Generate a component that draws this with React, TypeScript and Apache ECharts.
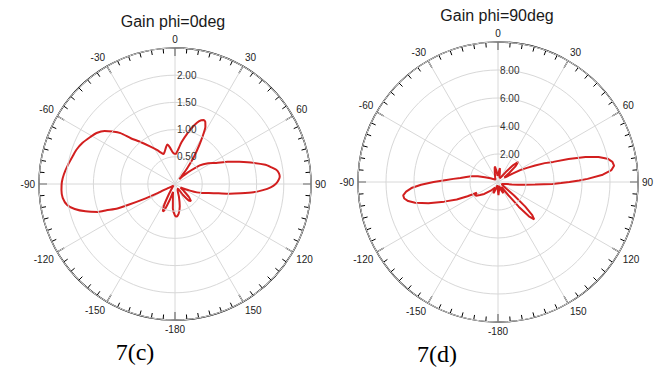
import React, { useEffect, useRef } from 'react';
import * as echarts from 'echarts';

const TITLES = ['Gain phi=0deg', 'Gain phi=90deg'];
const CAPTIONS = ['7(c)', '7(d)'];

// Gain phi=0deg : angle (deg) / gain
const PHI0_ANGLES = [
  -180, -175, -170, -166, -162, -158, -156, -153, -149, -143, -135, -125, -120, -118, -116, -114, -113, -111, -110,
  -107, -104, -101, -97, -93, -89, -85, -80, -75, -71, -66, -61, -57, -53, -50, -47, -44, -40, -34, -28, -24, -21,
  -18, -14, -11, -8, -5, -2, 0, 2, 5, 9, 14, 18, 21, 24, 26, 28, 30, 32, 35, 38, 40, 42, 45, 48, 53, 58, 63, 67, 71,
  75, 78, 80, 82, 84, 86, 88, 90, 92, 94, 96, 98, 100, 102, 105, 108, 111, 114, 117, 122, 128, 133, 137, 140, 144,
  150, 157, 163, 168, 173, 177,
];
const PHI0_GAIN = [
  0.58, 0.45, 0.22, 0.15, 0.3, 0.52, 0.55, 0.45, 0.22, 0.08, 0.04, 0.05, 0.15, 0.35, 0.6, 0.95, 1.15, 1.35, 1.5,
  1.72, 1.9, 2.02, 2.08, 2.09, 2.08, 2.05, 2.0, 1.95, 1.92, 1.86, 1.78, 1.72, 1.62, 1.5, 1.37, 1.17, 1.02, 0.84, 0.71,
  0.63, 0.59, 0.62, 0.69, 0.74, 0.68, 0.6, 0.56, 0.55, 0.56, 0.63, 0.78, 0.97, 1.13, 1.24, 1.29, 1.27, 1.19, 1.02,
  0.84, 0.6, 0.35, 0.18, 0.12, 0.2, 0.32, 0.57, 0.72, 0.85, 1.05, 1.25, 1.5, 1.7, 1.79, 1.88, 1.92, 1.93, 1.9, 1.85,
  1.76, 1.62, 1.45, 1.22, 1.02, 0.82, 0.64, 0.53, 0.43, 0.3, 0.2, 0.12, 0.2, 0.35, 0.43, 0.4, 0.25, 0.1, 0.12, 0.25,
  0.42, 0.55, 0.6,
];

// Gain phi=90deg : angle (deg) / gain
const PHI90_ANGLES = [
  -180, -178, -176, -170, -164, -159, -156, -152, -147, -142, -136, -131, -126, -122, -119, -117, -115, -113, -110,
  -107, -104, -102, -100, -98, -96, -94, -92, -90, -88, -86, -84, -81, -78, -74, -70, -64, -55, -45, -35, -25, -18,
  -13, -11, -8, -4, 0, 4, 8, 11, 16, 25, 33, 38, 42, 45, 48, 51, 55, 58, 60, 62, 64, 66, 68, 70, 72, 74, 76, 78, 80,
  82, 84, 86, 88, 89, 90, 91, 92, 94, 96, 98, 100, 103, 110, 120, 127, 130, 132, 134, 136, 138, 140, 142, 145, 150,
  155, 159, 165, 172, 175, 178,
];
const PHI90_GAIN = [
  0.7, 0.5, 0.3, 0.25, 0.45, 0.85, 0.8, 0.45, 0.55, 0.73, 0.95, 1.3, 1.59, 1.85, 1.89, 1.7, 2.4, 3.2, 4.1, 5.2, 6.1,
  6.56, 6.8, 6.84, 6.6, 6.2, 5.5, 4.6, 3.8, 3.2, 2.7, 2.3, 1.95, 1.5, 1.0, 0.6, 0.35, 0.25, 0.35, 0.5, 0.75, 1.05,
  1.12, 0.8, 0.45, 0.5, 0.7, 1.0, 0.7, 0.4, 0.3, 0.45, 0.9, 1.6, 2.05, 1.7, 1.0, 0.55, 0.7, 1.2, 1.8, 2.3, 2.9, 3.6,
  4.2, 5.3, 6.5, 7.4, 8.0, 8.3, 8.37, 8.15, 7.5, 6.4, 5.8, 5.1, 4.5, 3.9, 2.65, 1.9, 1.45, 1.0, 0.65, 0.4, 0.3, 0.5,
  1.5, 2.6, 3.4, 3.72, 3.3, 2.3, 1.2, 0.5, 0.45, 0.89, 0.6, 0.3, 0.55, 0.7, 0.93,
];

const RADIUS_MAX = [2.5, 10];
const RADIUS_STEP = [0.5, 2];

function toPolarData(angles: number[], gains: number[]) {
  const pts = angles.map((a, i) => [gains[i], a < 0 ? a + 360 : a]);
  pts.sort((p, q) => p[1] - q[1]);
  const start = pts.find((p) => p[1] === 0);
  if (start) pts.push([start[0], 360]);
  return pts;
}

const angleLabel = (v: number) => {
  if (v === 360) return '';
  if (v === 180) return '-180';
  return String(v > 180 ? v - 360 : v);
};

export default function App() {
  const ref = useRef<HTMLDivElement>(null);
  useEffect(() => {
    if (!ref.current) return;
    const chart = echarts.init(ref.current, null, { renderer: 'svg' });
    const centers = [
      [175, 184],
      [498, 182],
    ];
    const radii = [136, 140];
    const angleAxis = [0, 1].map((i) => ({
      polarIndex: i,
      type: 'value',
      min: 0,
      max: 360,
      interval: 30,
      startAngle: 90,
      clockwise: true,
      axisLine: { lineStyle: { color: '#000', width: 1.4 } },
      axisTick: { show: true, inside: true, length: 8, lineStyle: { color: '#000', width: 1.2 } },
      minorTick: { show: true, splitNumber: 6, length: 5, lineStyle: { color: '#000', width: 1 } },
      axisLabel: { formatter: angleLabel, fontSize: 10, color: '#222', margin: 4, fontFamily: 'Liberation Sans' },
      splitLine: { show: true, lineStyle: { color: '#d8d8d8', width: 1 } },
    }));
    const radiusAxis = [0, 1].map((i) => ({
      polarIndex: i,
      type: 'value',
      min: 0,
      max: RADIUS_MAX[i],
      interval: RADIUS_STEP[i],
      axisLine: { show: false },
      axisTick: { show: false },
      axisLabel: {
        formatter: (v: number) => (v === 0 || v >= RADIUS_MAX[i] ? '' : v.toFixed(2)),
        fontSize: 10,
        color: '#333',
        fontFamily: 'Liberation Sans',
        margin: -2,
        align: 'left',
        verticalAlign: 'middle',
      },
      splitLine: { show: true, lineStyle: { color: '#d8d8d8', width: 1 } },
      z: 5,
    }));
    const titleStyle = { fontSize: 16, fontWeight: 'normal', color: '#1a1a1a', fontFamily: 'Liberation Sans' };
    const captionStyle = { fontSize: 24, fontWeight: 'normal', color: '#000', fontFamily: 'Liberation Serif' };
    chart.setOption({
      animation: false,
      backgroundColor: '#fff',
      title: [
        { text: TITLES[0], left: 173, top: 13, textAlign: 'center', padding: 0, textStyle: titleStyle },
        { text: TITLES[1], left: 497, top: 7, textAlign: 'center', padding: 0, textStyle: titleStyle },
        { text: CAPTIONS[0], left: 135, top: 340, textAlign: 'center', padding: 0, textStyle: captionStyle },
        { text: CAPTIONS[1], left: 437, top: 342, textAlign: 'center', padding: 0, textStyle: captionStyle },
      ],
      polar: [0, 1].map((i) => ({ center: centers[i], radius: radii[i] })),
      angleAxis,
      radiusAxis,
      series: [
        {
          type: 'line',
          coordinateSystem: 'polar',
          polarIndex: 0,
          data: toPolarData(PHI0_ANGLES, PHI0_GAIN),
          showSymbol: false,
          smooth: 0.2,
          lineStyle: { color: '#d21f1f', width: 2 },
          z: 3,
        },
        {
          type: 'line',
          coordinateSystem: 'polar',
          polarIndex: 1,
          data: toPolarData(PHI90_ANGLES, PHI90_GAIN),
          showSymbol: false,
          smooth: false,
          lineStyle: { color: '#d21f1f', width: 2 },
          z: 3,
        },
      ],
    });
    return () => chart.dispose();
  }, []);
  return (
    <div
      ref={ref}
      style={{ position: 'fixed', left: 0, top: 0, width: 667, height: 369, background: '#fff' }}
    />
  );
}
